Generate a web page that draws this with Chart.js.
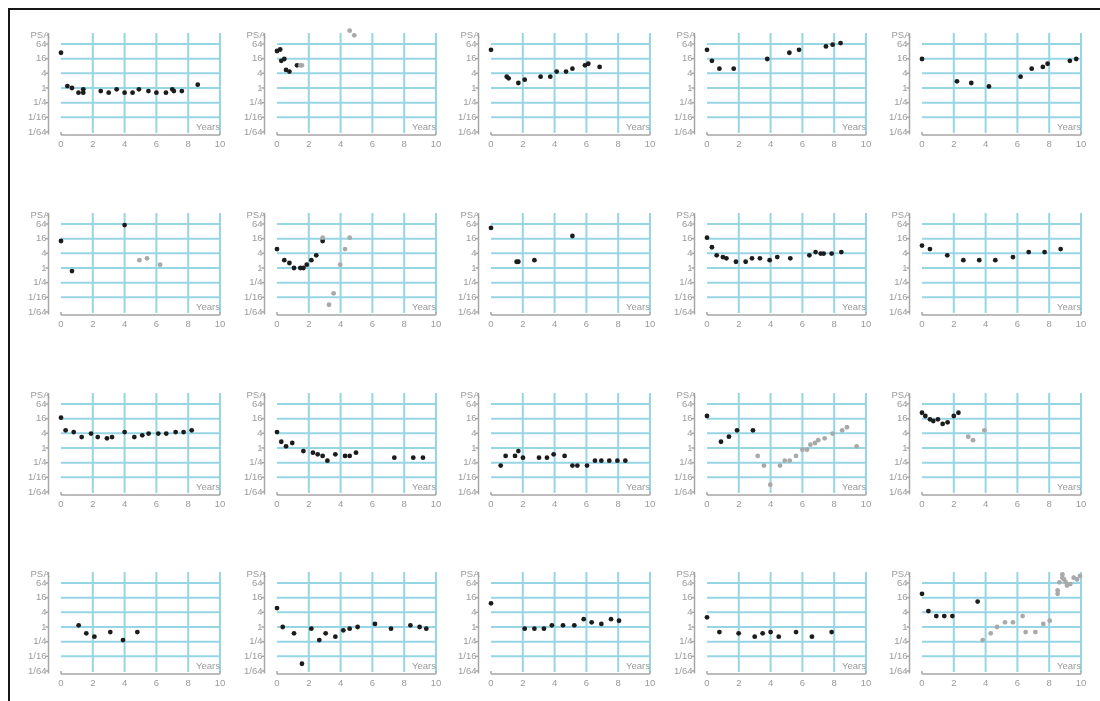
<!DOCTYPE html>
<html>
<head>
<meta charset="utf-8">
<script src="https://cdn.jsdelivr.net/npm/chart.js@4"></script>
<style>
  html,body{margin:0;padding:0;background:#fff;}
  body{width:1100px;height:701px;position:relative;overflow:hidden;}
  #frame{position:absolute;left:8px;top:8px;width:1200px;height:800px;border-top:2px solid #161616;border-left:2px solid #161616;}
  canvas{position:absolute;}
</style>
</head>
<body>
<div id="frame"></div>
<script>
// ---- tick definitions ----
const xTickValues = [0, 2, 4, 6, 8, 10];
const xGridValues = [2, 4, 6, 8, 10];
const yTickValues = [1/64, 1/16, 1/4, 1, 4, 16, 64];
const yTickLabels = ['1/64', '1/16', '1/4', '1', '4', '16', '64'];
const yGridValues = [1/16, 1/4, 1, 4, 16, 64];
const yAxisTitle = 'PSA';
const xAxisTitle = 'Years';

// ---- data: years since start, PSA value (black = first phase, gray = later phase) ----
const years01 = [0,0.4,0.69,1.1,1.4,1.4,2.5,3.0,3.5,4.0,4.5,4.9,5.5,6.0,6.6,7.0,7.1,7.6,8.6];
const psa01   = [28,1.2,1.0,0.64,0.88,0.64,0.75,0.64,0.88,0.64,0.64,0.88,0.75,0.64,0.64,0.88,0.75,0.75,1.37];

const years02 = [0,0.2,0.27,0.46,0.57,0.78,1.26];
const psa02   = [33,38,13,15.5,5.5,4.7,8.5];
const laterYears02 = [1.47,1.57,4.57,4.86];
const laterPsa02   = [8.5,8.5,225,145];

const years03 = [0,0.99,1.11,1.72,2.12,3.12,3.73,4.13,4.72,5.12,5.91,6.12,6.83];
const psa03   = [37,2.9,2.5,1.6,2.2,2.9,2.9,4.7,4.7,6.2,8.5,9.9,7.3];

const years04 = [0,0.31,0.78,1.68,3.79,5.18,5.79,7.48,7.9,8.4];
const psa04   = [37,13,6.2,6.2,15.5,28,37,51,60,70];

const years05 = [0,2.2,3.1,4.21,6.2,6.9,7.6,7.9,9.3,9.7];
const psa05   = [15.5,1.87,1.6,1.16,2.9,6.2,7.3,9.9,13,15.5];

const years06 = [0,0.69,4.0];
const psa06   = [12.8,0.75,58];
const laterYears06 = [4.93,5.41,6.23];
const laterPsa06   = [2.1,2.5,1.37];

const years07 = [0,0.46,0.78,1.07,1.47,1.66,1.87,2.16,2.47,2.87];
const psa07   = [6.0,2.1,1.6,1,1,1,1.37,2.1,3.3,12.8];
const laterYears07 = [2.87,3.27,3.56,3.98,4.28,4.57];
const laterPsa07   = [17.6,0.031,0.091,1.37,6.0,17.6];

const years08 = [0,1.61,1.72,2.73,5.12];
const psa08   = [44,1.8,1.8,2.1,20.6];

const years09 = [0,0.31,0.61,1.0,1.22,1.82,2.43,2.83,3.33,3.94,4.42,5.24,6.44,6.83,7.15,7.34,7.84,8.45];
const psa09   = [17.6,7.1,3.3,2.8,2.5,1.8,1.8,2.5,2.5,2.1,2.8,2.5,3.3,4.5,3.9,3.9,3.9,4.5];

const years10 = [0,0.5,1.59,2.6,3.6,4.61,5.72,6.71,7.71,8.72];
const psa10   = [8.3,6.0,3.3,2.1,2.1,2.1,2.8,4.5,4.5,6.0];

const years11 = [0,0.29,0.8,1.3,1.89,2.31,2.89,3.21,4.0,4.61,5.11,5.51,6.12,6.62,7.21,7.71,8.22];
const psa11   = [17.6,5.3,4.5,2.8,3.9,2.8,2.5,2.8,4.5,2.8,3.3,3.9,3.9,3.9,4.5,4.5,5.3];

const years12 = [0,0.27,0.57,0.96,1.66,2.26,2.56,2.87,3.17,3.67,4.28,4.57,4.97,7.38,8.57,9.18];
const psa12   = [4.5,1.8,1.17,1.6,0.75,0.64,0.55,0.47,0.30,0.55,0.47,0.47,0.64,0.40,0.40,0.40];

const years13 = [0.61,0.92,1.51,1.72,2.01,3.02,3.52,3.94,4.63,5.12,5.43,6.04,6.54,6.94,7.44,7.95,8.45];
const psa13   = [0.19,0.47,0.47,0.75,0.40,0.40,0.40,0.55,0.47,0.19,0.19,0.19,0.30,0.30,0.30,0.30,0.30];

const years14 = [0,0.88,1.38,1.89,2.89];
const psa14   = [20.6,1.8,2.9,5.3,5.3];
const laterYears14 = [3.19,3.58,3.98,4.59,4.89,5.2,5.6,6.0,6.29,6.5,6.79,7.0,7.4,7.9,8.5,8.8,9.41];
const laterPsa14   = [0.47,0.19,0.031,0.19,0.30,0.30,0.47,0.85,0.85,1.37,1.6,2.1,2.5,3.9,5.3,7.1,1.17];

const years15 = [0,0.21,0.5,0.71,1.0,1.3,1.61,2.0,2.29];
const psa15   = [28,20.6,15,12.8,15,9.7,11.3,20.6,28];
const laterYears15 = [2.91,3.21,3.92];
const laterPsa15   = [2.9,2.1,5.3];

const years16 = [1.11,1.59,2.1,3.1,3.9,4.8];
const psa16   = [1.17,0.55,0.40,0.62,0.29,0.62];

const years17 = [0,0.36,1.07,1.57,2.16,2.66,3.06,3.67,4.17,4.57,5.07,6.16,7.17,8.39,8.97,9.39];
const psa17   = [6.0,1,0.55,0.031,0.85,0.29,0.55,0.40,0.73,0.85,1,1.33,0.85,1.17,1,0.85];

const years18 = [0,2.12,2.73,3.33,3.83,4.53,5.24,5.83,6.33,6.94,7.55,8.05];
const psa18   = [9.4,0.85,0.85,0.85,1.17,1.17,1.17,2.1,1.55,1.33,2.1,1.8];

const years19 = [0,0.78,1.99,3.0,3.5,4.0,4.51,5.6,6.6,7.84];
const psa19   = [2.5,0.62,0.55,0.40,0.55,0.62,0.40,0.62,0.40,0.62];

const years20 = [0,0.4,0.9,1.4,1.91,3.5];
const psa20   = [23,4.5,2.8,2.8,2.8,11];
const laterYears20 = [3.82,4.32,4.72,5.22,5.72,6.33,6.52,7.13,7.63,8.03,8.53,8.53,8.64,8.83,8.83,8.93,9.04,9.12,9.33,9.54,9.75,9.94];
const laterPsa20   = [0.29,0.55,1,1.55,1.55,2.8,0.62,0.62,1.33,1.8,23,32,68,145,106,90,68,50,58,106,90,124];

const panels = [
  [years01, psa01, [], []],
  [years02, psa02, laterYears02, laterPsa02],
  [years03, psa03, [], []],
  [years04, psa04, [], []],
  [years05, psa05, [], []],
  [years06, psa06, laterYears06, laterPsa06],
  [years07, psa07, laterYears07, laterPsa07],
  [years08, psa08, [], []],
  [years09, psa09, [], []],
  [years10, psa10, [], []],
  [years11, psa11, [], []],
  [years12, psa12, [], []],
  [years13, psa13, [], []],
  [years14, psa14, laterYears14, laterPsa14],
  [years15, psa15, laterYears15, laterPsa15],
  [years16, psa16, [], []],
  [years17, psa17, [], []],
  [years18, psa18, [], []],
  [years19, psa19, [], []],
  [years20, psa20, laterYears20, laterPsa20]
];

// ---- styling / layout ----
const GRID = 'rgb(150,214,228)';
const AXIS = '#a6a6a6';
const TEXT = '#9a9a9a';
const FONT = '9.5px "Liberation Sans", Arial, Helvetica, sans-serif';
const colLeft = [11, 227, 441, 657, 872];
const rowTop = [24, 204, 384, 563];
const CW = 215, CH = 125;

const zip = (xs, ys) => xs.map((v, i) => ({x: v, y: ys[i]}));

const panelPlugin = {
  id: 'panelPlugin',
  beforeDatasetsDraw(chart) {
    const {ctx, chartArea: a, scales: {x, y}} = chart;
    const line = (x1, y1, x2, y2) => { ctx.beginPath(); ctx.moveTo(x1, y1); ctx.lineTo(x2, y2); ctx.stroke(); };
    ctx.save();
    // grid
    ctx.strokeStyle = GRID; ctx.lineWidth = 2;
    xGridValues.forEach(v => { const px = x.getPixelForValue(v); line(px, a.top, px, a.bottom); });
    yGridValues.forEach(v => { const py = y.getPixelForValue(v); line(x.getPixelForValue(0), py, x.getPixelForValue(10), py); });
    // axes
    ctx.strokeStyle = AXIS; ctx.lineWidth = 1.5;
    const ax = a.left - 12.5;
    const ay = a.bottom + 2;
    line(ax, a.top, ax, a.bottom + 1.5);
    yTickValues.forEach(v => { const py = y.getPixelForValue(v); line(ax - 3, py, ax, py); });
    line(x.getPixelForValue(0), ay, x.getPixelForValue(10), ay);
    line(x.getPixelForValue(0), ay, x.getPixelForValue(0), ay - 3);
    line(x.getPixelForValue(10), ay, x.getPixelForValue(10), ay - 3);
    // labels
    ctx.fillStyle = TEXT; ctx.font = FONT;
    ctx.textAlign = 'right'; ctx.textBaseline = 'middle';
    yTickValues.forEach((v, i) => ctx.fillText(yTickLabels[i], ax - 2, y.getPixelForValue(v)));
    ctx.fillText(yAxisTitle, ax + 1, a.top + 2.5);
    ctx.textAlign = 'center';
    xTickValues.forEach(v => ctx.fillText(String(v), x.getPixelForValue(v), a.bottom + 11));
    ctx.textAlign = 'right';
    ctx.fillText(xAxisTitle, x.getPixelForValue(10), a.bottom - 5.5);
    ctx.restore();
  }
};

panels.forEach((p, i) => {
  const r = Math.floor(i / 5), c = i % 5;
  const cv = document.createElement('canvas');
  cv.width = CW; cv.height = CH;
  cv.style.left = colLeft[c] + 'px';
  cv.style.top = rowTop[r] + 'px';
  cv.style.width = CW + 'px'; cv.style.height = CH + 'px';
  document.body.appendChild(cv);
  new Chart(cv, {
    type: 'scatter',
    data: {
      datasets: [
        {data: zip(p[2], p[3]), backgroundColor: '#a9a9a9', borderWidth: 0, pointRadius: 2.4, clip: false},
        {data: zip(p[0], p[1]), backgroundColor: '#1c1c1c', borderWidth: 0, pointRadius: 2.4, clip: false}
      ]
    },
    options: {
      responsive: false, animation: false, devicePixelRatio: 1,
      layout: {padding: {left: 50, right: 6, top: 9, bottom: 16}},
      plugins: {legend: {display: false}, tooltip: {enabled: false}},
      scales: {
        x: {type: 'linear', min: 0, max: 10, display: false},
        y: {type: 'logarithmic', min: Math.pow(2, -6.14), max: Math.pow(2, 7.5), display: false}
      }
    },
    plugins: [panelPlugin]
  });
});
</script>
</body>
</html>
